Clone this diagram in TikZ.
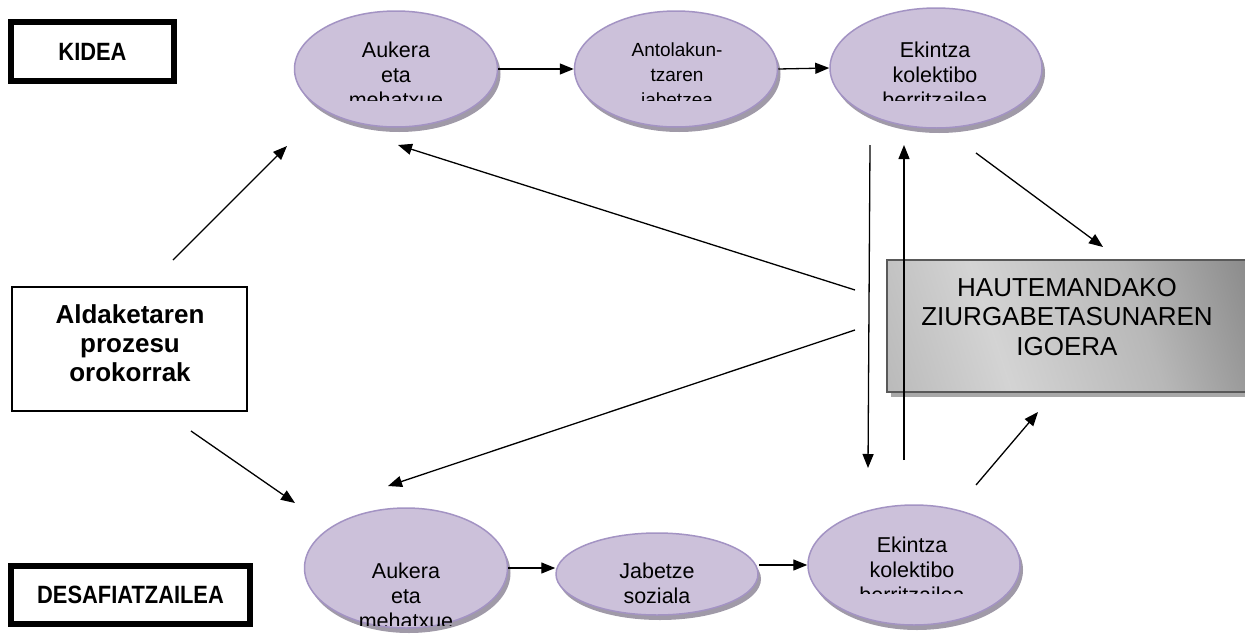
\documentclass[tikz,border=0pt]{standalone}
\usepackage{fontspec}
\setmainfont{Liberation Sans}
\usepackage{graphicx}
\usetikzlibrary{arrows.meta,shapes.geometric,shadows}
\definecolor{ellfill}{HTML}{CCC1DA}
\definecolor{elldraw}{HTML}{A393C3}
\definecolor{ellshadow}{HTML}{A09AA8}
\definecolor{boxshadow}{HTML}{A8A8A8}
\pgfdeclarehorizontalshading{hautshade}{100bp}{color(0bp)=(black!55); color(9bp)=(black!32); color(38bp)=(black!17); color(62bp)=(black!28); color(100bp)=(black!62)}
\newcommand{\elltext}[1]{\parbox[t]{220pt}{\centering #1}}
\newcommand{\condensed}[1]{\scalebox{0.875}[1]{#1}}
\begin{document}
\begin{tikzpicture}[x=1pt,y=-1pt,
  ell/.style={ellipse, fill=ellfill, draw=elldraw, line width=1.5pt, inner sep=0pt,
    drop shadow={shadow xshift=3pt, shadow yshift=-5pt, fill=ellshadow, opacity=1}},
  lbl/.style={inner sep=0pt, anchor=base, font=\fontsize{21.5}{25}\selectfont},
  arr/.style={-{Triangle[length=14pt,width=11pt]}, line width=1.3pt},
  thickbox/.style={draw, line width=6pt, inner sep=0pt, font=\fontsize{25}{29}\selectfont\bfseries},
  thinbox/.style={draw, line width=1.5pt, inner sep=0pt},
]
\useasboundingbox (0,0) rectangle (1245,635);
\clip (0,0) rectangle (1245,635);

% left boxes
\node[thickbox, minimum width=163pt, minimum height=59pt] (kidea) at (92.5,51.5) {\condensed{KIDEA}};
\node[thickbox, minimum width=239pt, minimum height=58pt] (desaf) at (130.5,595) {\condensed{DESAFIATZAILEA}};
\node[thinbox, minimum width=235pt, minimum height=124pt] (ald) at (129.5,349) {};
\node[inner sep=0pt, anchor=base, font=\fontsize{26}{29}\selectfont\bfseries] (aldt) at (130,323)
  {\parbox[t]{230pt}{\centering Aldaketaren\\prozesu\\orokorrak}};

% outcome box
\node[draw=black!65, line width=1.5pt, inner sep=0pt, minimum width=360pt, minimum height=132pt,
  shade, shading=hautshade, shading angle=18,
  drop shadow={shadow xshift=4pt, shadow yshift=-5pt, fill=boxshadow, opacity=1}] (h) at (1067,326) {};
\node[inner sep=0pt, anchor=base, font=\fontsize{26}{29.5}\selectfont] (ht) at (1067,296)
  {\parbox[t]{360pt}{\centering HAUTEMANDAKO\\ZIURGABETASUNAREN\\IGOERA}};

% ellipses
\node[ell, minimum width=203pt, minimum height=116pt] (e1) at (396,69) {};
\node[ell, minimum width=203pt, minimum height=116pt] (e2) at (676,69) {};
\node[ell, minimum width=212pt, minimum height=120pt] (e3) at (936,68) {};
\node[ell, minimum width=203pt, minimum height=120pt] (e4) at (406,568) {};
\node[ell, minimum width=202pt, minimum height=82pt] (e5) at (657,574) {};
\node[ell, minimum width=212pt, minimum height=120pt] (e6) at (914,565) {};

% ellipse texts (clipped like the original text boxes)
\begin{scope}
  \clip (300,25) rectangle (495,100);
  \node[lbl] (t1) at (396,57) {\elltext{Aukera\\eta\\mehatxue}};
\end{scope}
\begin{scope}
  \clip (580,25) rectangle (775,100);
  \node[lbl, font=\fontsize{19}{25}\selectfont] (t2) at (677,56) {\elltext{Antolakun-\\tzaren\\jabetzea}};
\end{scope}
\begin{scope}
  \clip (835,25) rectangle (1035,100);
  \node[lbl] (t3) at (935,57) {\elltext{Ekintza\\kolektibo\\berritzailea}};
\end{scope}
\begin{scope}
  \clip (310,550) rectangle (505,625);
  \node[lbl] (t4) at (406,578) {\elltext{Aukera\\eta\\mehatxue}};
\end{scope}
\node[lbl] (t5) at (657,578) {\elltext{Jabetze\\soziala}};
\begin{scope}
  \clip (812,525) rectangle (1015,593);
  \node[lbl] (t6) at (912,552) {\elltext{Ekintza\\kolektibo\\berritzailea}};
\end{scope}

% coordinates for free connector ends
\coordinate (a1s) at (173,260);
\coordinate (a1e) at (287,146);
\coordinate (a2s) at (191,431);
\coordinate (a2e) at (295,503);
\coordinate (l1s) at (855,290);
\coordinate (l1e) at (398,145);
\coordinate (l2s) at (855,330);
\coordinate (l2e) at (388,486);
\coordinate (d1s) at (870,145);
\coordinate (d1e) at (868,468);
\coordinate (u1s) at (904,460);
\coordinate (u1e) at (904,145);
\coordinate (r1s) at (976,153);
\coordinate (r1e) at (1103,247);
\coordinate (r2s) at (976,485);
\coordinate (r2e) at (1038,412);

% connectors
\draw[arr] (e1.east) -- (e2.west);
\draw[arr] (e2.east) -- (e3.west);
\draw[arr] (e4.east) -- (e4.east -| e5.west);
\draw[arr] (e5.east |- e6.west) -- (e6.west);
\draw[arr] (a1s) -- (a1e);
\draw[arr] (a2s) -- (a2e);
\draw[arr] (l1s) -- (l1e);
\draw[arr] (l2s) -- (l2e);
\draw[arr] (d1s) -- (d1e);
\draw[arr] (u1s) -- (u1e);
\draw[arr] (r1s) -- (r1e);
\draw[arr] (r2s) -- (r2e);
\end{tikzpicture}
\end{document}
